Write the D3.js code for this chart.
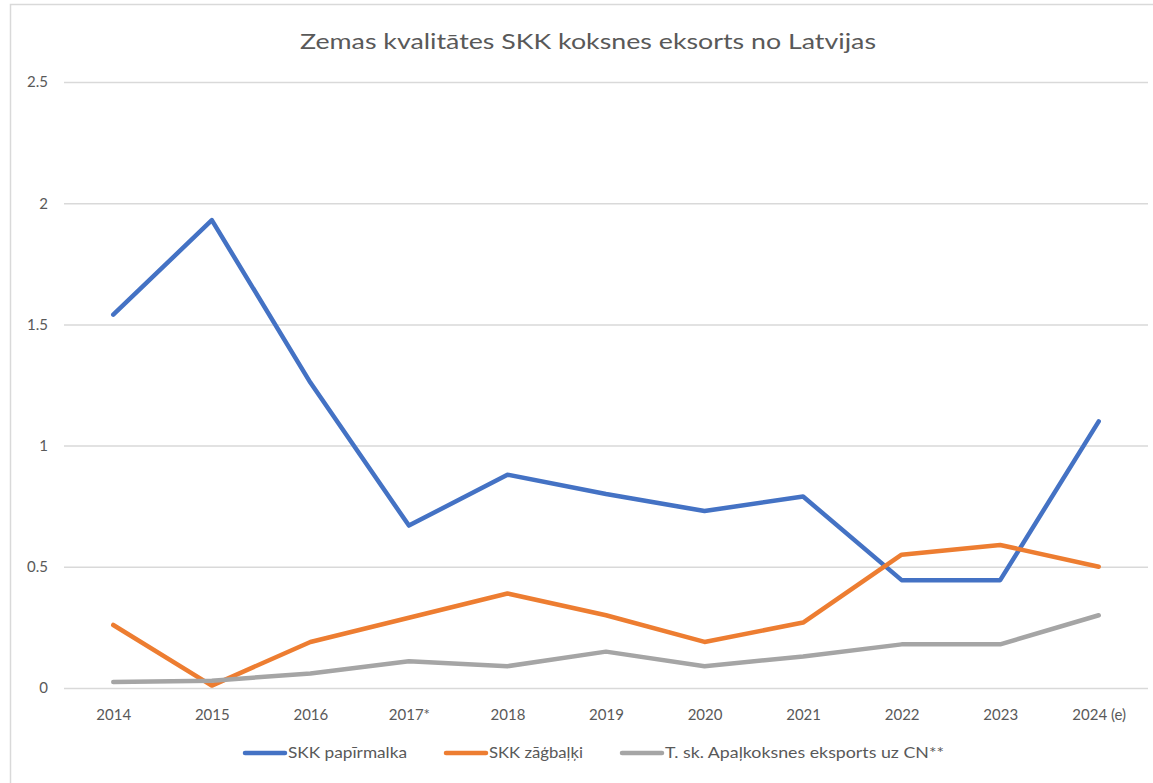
<!DOCTYPE html>
<html><head><meta charset="utf-8">
<script src="https://cdn.jsdelivr.net/npm/d3@7"></script>
<style>
body{margin:0;background:#fff;}
svg{display:block;font-family:Lato, "Open Sans", sans-serif;}
</style></head>
<body><svg id="c" width="1153" height="783"></svg>
<script>
const categories = ["2014","2015","2016","2017*","2018","2019","2020","2021","2022","2023","2024 (e)"];
const papirmalka = [1.54,1.93,1.26,0.67,0.88,0.80,0.73,0.79,0.445,0.445,1.10];
const zagbalki   = [0.26,0.01,0.19,0.29,0.39,0.30,0.19,0.27,0.55,0.59,0.50];
const cnEksports = [0.025,0.03,0.06,0.11,0.09,0.15,0.09,0.13,0.18,0.18,0.30];
const yTicks = [0,0.5,1,1.5,2,2.5];
const seriesNames = ["SKK papīrmalka","SKK zāģbaļķi","T. sk. Apaļkoksnes eksports uz CN**"];
const colors = ["#4472C4","#ED7D31","#A5A5A5"];
const title = "Zemas kvalitātes SKK koksnes eksorts no Latvijas";

const svg = d3.select("#c");
svg.append("path").attr("d","M10.5,800 V4.5 H1160").attr("fill","none").attr("stroke","#d9d9d9").attr("stroke-width",1.5);

const x = d3.scalePoint().domain(categories).range([64,1148]).padding(0.5);
const y = d3.scaleLinear().domain([0,2.5]).range([688,82]);

svg.append("g").selectAll("line").data(yTicks).join("line")
  .attr("x1",64).attr("x2",1148).attr("y1",d=>y(d)+0.5).attr("y2",d=>y(d)+0.5)
  .attr("stroke","#d9d9d9").attr("stroke-width",1.5);

const yAxis = d3.axisLeft(y).tickValues(yTicks).tickFormat(d=>String(d)).tickSize(0).tickPadding(0);
const ya = svg.append("g").attr("transform","translate(48,0)").call(yAxis);
ya.select(".domain").remove();
ya.selectAll("text").attr("fill","#595959").style("font-size","15px").style("font-family","Lato, sans-serif");

const xAxis = d3.axisBottom(x).tickSize(0).tickPadding(0);
const xa = svg.append("g").attr("transform","translate(0,709)").call(xAxis);
xa.select(".domain").remove();
xa.selectAll("text").attr("fill","#595959").style("font-size","15px").style("font-family","Lato, sans-serif");

const all = [papirmalka, zagbalki, cnEksports];
const line = d3.line().x((d,i)=>x(categories[i])).y(d=>y(d));
all.forEach((s,i)=>{
  svg.append("path").datum(s).attr("d",line).attr("fill","none")
    .attr("stroke",colors[i]).attr("stroke-width",4.5)
    .attr("stroke-linejoin","round").attr("stroke-linecap","round");
});

svg.append("text").attr("x",588).attr("y",49).attr("text-anchor","middle")
  .attr("fill","#595959").style("font-size","22px").text(title)
  .attr("textLength",576).attr("lengthAdjust","spacingAndGlyphs");

const legX = [243,444,620];
const legW = [119,94,279];
seriesNames.forEach((n,i)=>{
  const g = svg.append("g");
  g.append("line").attr("x1",legX[i]+2).attr("x2",legX[i]+42).attr("y1",753).attr("y2",753)
    .attr("stroke",colors[i]).attr("stroke-width",4.5).attr("stroke-linecap","round");
  g.append("text").attr("x",legX[i]+45).attr("y",758).attr("fill","#595959")
    .style("font-size","15px").text(n)
    .attr("textLength",legW[i]).attr("lengthAdjust","spacingAndGlyphs");
});
</script></body></html>
